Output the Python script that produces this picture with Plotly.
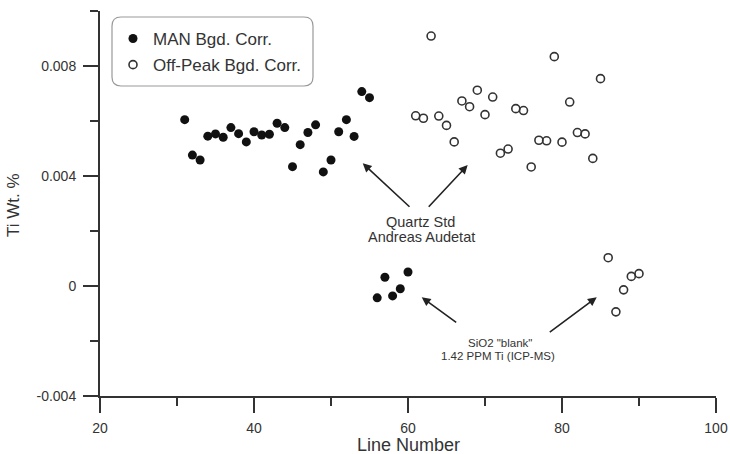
import plotly.graph_objects as go

# ---- data ----
man_line = list(range(31, 61))
man_ti = [0.00605, 0.00476, 0.00458, 0.00545, 0.00553, 0.00541, 0.00576, 0.00554,
          0.00524, 0.00561, 0.00549, 0.00552, 0.00592, 0.00576, 0.00434, 0.00514,
          0.00558, 0.00586, 0.00415, 0.00458, 0.00561, 0.00605, 0.00544, 0.00707,
          0.00685, -0.00043, 0.00032, -0.00036, -0.00010, 0.00051]
off_line = list(range(61, 91))
off_ti = [0.00619, 0.00610, 0.00909, 0.00618, 0.00584, 0.00524, 0.00673, 0.00652,
          0.00712, 0.00623, 0.00687, 0.00483, 0.00498, 0.00645, 0.00638, 0.00433,
          0.00530, 0.00528, 0.00834, 0.00523, 0.00669, 0.00558, 0.00553, 0.00464,
          0.00754, 0.00103, -0.00094, -0.00014, 0.00035, 0.00045]
x_tickvals = [20, 40, 60, 80, 100]
x_ticktext = ["20", "40", "60", "80", "100"]
y_tickvals = [-0.004, 0, 0.004, 0.008]
y_ticktext = ["-0.004", "0", "0.004", "0.008"]
x_title = "Line Number"
y_title = "Ti Wt. %"

FONT = "Arial, Liberation Sans, sans-serif"
INK = "#333333"
PW, PH = 616, 385  # plot area size in px

fig = go.Figure()
fig.add_trace(go.Scatter(
    x=man_line, y=man_ti, mode="markers", name="MAN Bgd. Corr.", legendgroup="a",
    marker=dict(symbol="circle", size=9, color="#111111", line=dict(width=0)),
))
fig.add_trace(go.Scatter(
    x=off_line, y=off_ti, mode="markers", name="Off-Peak Bgd. Corr.", legendgroup="b",
    marker=dict(symbol="circle-open", size=8, color="#333333", line=dict(width=1.6)),
))

# annotations: arrows
arrows = [
    (54.12, 0.00446, 60.39, 0.00283),
    (67.75, 0.00440, 62.51, 0.00283),
    (61.78, -0.00041, 66.45, -0.00136),
    (84.51, -0.00041, 78.22, -0.00172),
]
for hx, hy, tx, ty in arrows:
    fig.add_annotation(x=hx, y=hy, ax=tx, ay=ty, xref="x", yref="y", axref="x", ayref="y",
                       text="", showarrow=True, arrowhead=2, arrowsize=1.1,
                       arrowwidth=1.6, arrowcolor="#222222")

texts = [
    (61.56, 0.00234, "Quartz Std", 14.5),
    (61.78, 0.00178, "Andreas Audetat", 14.5),
    (71.95, -0.00208, "SiO2 \"blank\"", 11.5),
    (71.69, -0.00254, "1.42 PPM Ti (ICP-MS)", 11.5),
]
for x, y, t, fs in texts:
    fig.add_annotation(x=x, y=y, xref="x", yref="y", text=t, showarrow=False,
                       font=dict(family=FONT, size=fs, color=INK),
                       xanchor="center", yanchor="middle")

# axis titles
fig.add_annotation(x=0.5, y=-49 / PH, xref="paper", yref="paper", text=x_title,
                   showarrow=False, xanchor="center", yanchor="middle",
                   font=dict(family=FONT, size=18, color=INK))
fig.add_annotation(x=-86 / PW, y=(396 - 205) / PH, xref="paper", yref="paper", text=y_title,
                   showarrow=False, xanchor="center", yanchor="middle", textangle=-90,
                   font=dict(family=FONT, size=17, color=INK))

# rounded legend box
x0, x1 = (112 - 100) / PW, (313 - 100) / PW
y0, y1 = (396 - 86) / PH, (396 - 17) / PH
rx, ry = 9 / PW, 9 / PH
path = (f"M {x0+rx},{y1} L {x1-rx},{y1} Q {x1},{y1} {x1},{y1-ry} "
        f"L {x1},{y0+ry} Q {x1},{y0} {x1-rx},{y0} L {x0+rx},{y0} "
        f"Q {x0},{y0} {x0},{y0+ry} L {x0},{y1-ry} Q {x0},{y1} {x0+rx},{y1} Z")
fig.add_shape(type="path", path=path, xref="paper", yref="paper",
              line=dict(color="#999999", width=1.2), fillcolor="rgba(0,0,0,0)")

axis_common = dict(
    showline=True, linewidth=2, linecolor=INK, showgrid=False, zeroline=False,
    ticks="outside", ticklen=15, tickwidth=2, tickcolor=INK, automargin=False,
    tickfont=dict(family=FONT, size=14, color=INK),
)
fig.update_xaxes(
    range=[20, 100], tickvals=x_tickvals, ticktext=x_ticktext, ticklabelstandoff=3,
    minor=dict(ticks="outside", ticklen=8, tickwidth=2, tickcolor=INK, dtick=10, tick0=20),
    **axis_common,
)
fig.update_yaxes(
    range=[-0.004, 0.010], tickvals=y_tickvals, ticktext=y_ticktext, ticklabelstandoff=4,
    minor=dict(ticks="outside", ticklen=8, tickwidth=2, tickcolor=INK, dtick=0.002, tick0=0),
    **axis_common,
)
fig.update_layout(
    width=730, height=454,
    margin=dict(l=100, r=14, t=11, b=58),
    paper_bgcolor="white", plot_bgcolor="white",
    showlegend=True,
    legend=dict(x=(133 - 20 - 100) / PW, y=(396 - 21) / PH, xanchor="left", yanchor="top",
                bgcolor="rgba(0,0,0,0)", borderwidth=0, traceorder="grouped",
                tracegroupgap=1, font=dict(family=FONT, size=17, color=INK)),
)
# remove the default 8px page margin so the 730x454 figure fills the window exactly
fig.write_html("out.html", config={"displayModeBar": False},
               post_script="document.body.style.margin='0';document.body.style.overflow='hidden';")
